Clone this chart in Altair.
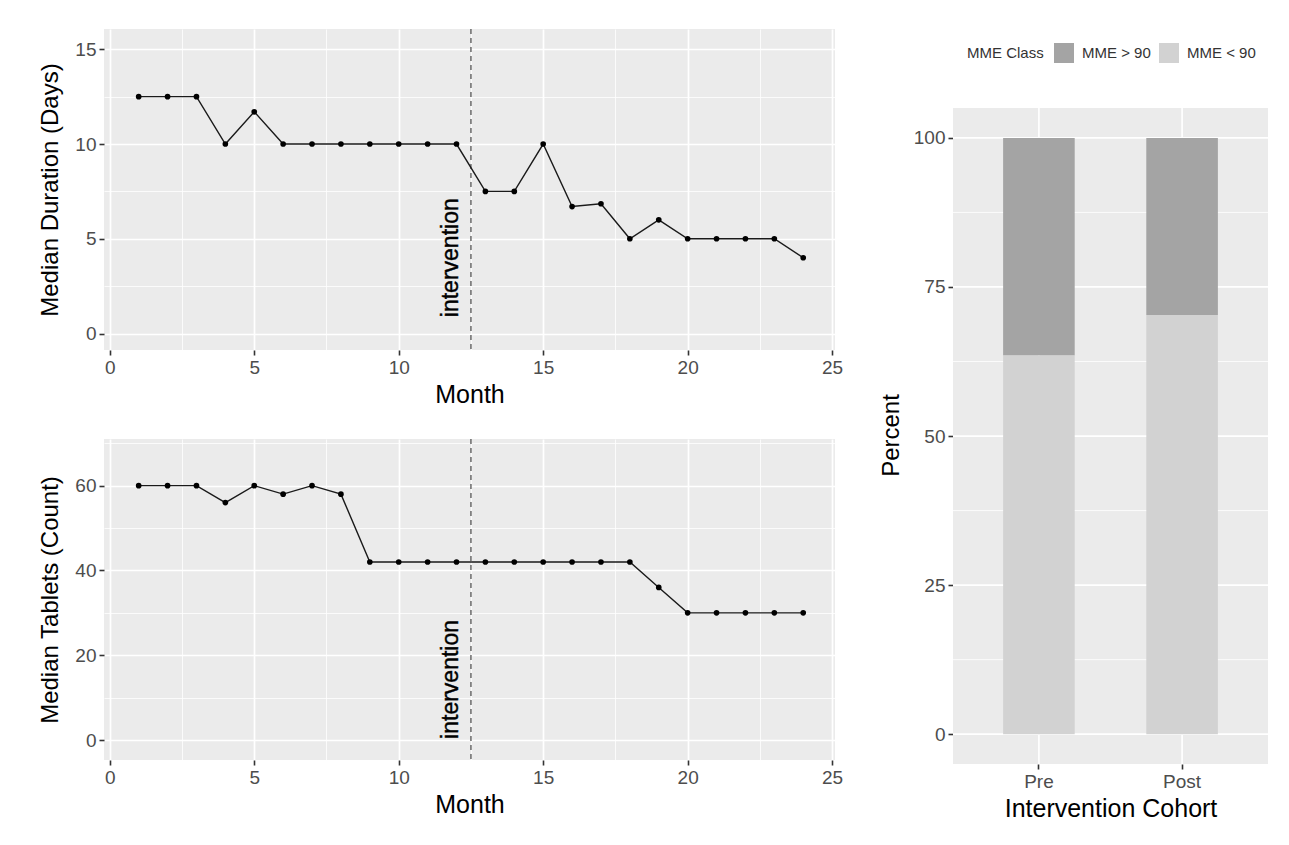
import altair as alt
import pandas as pd

# ---------------- data ----------------
months = list(range(1, 25))
median_duration = [12.5, 12.5, 12.5, 10, 11.7, 10, 10, 10, 10, 10, 10, 10,
                   7.5, 7.5, 10, 6.7, 6.85, 5, 6, 5, 5, 5, 5, 4]
median_tablets = [60, 60, 60, 56, 60, 58, 60, 58, 42, 42, 42, 42,
                  42, 42, 42, 42, 42, 42, 36, 30, 30, 30, 30, 30]

cohorts = ["Pre", "Pre", "Post", "Post"]
mme_class = ["MME > 90", "MME < 90", "MME > 90", "MME < 90"]
percent = [36.5, 63.5, 29.7, 70.3]
stack_order = [1, 0, 1, 0]
cohort_levels = ["Pre", "Post"]
class_levels = ["MME > 90", "MME < 90"]
class_colors = ["#A4A4A4", "#D2D2D2"]

intervention_month = 12.5
label_month = 11.8
duration_label_y = 4.0
tablets_label_y = 14.3

month_ticks = [0, 2.5, 5, 7.5, 10, 12.5, 15, 17.5, 20, 22.5, 25]
duration_ticks = [0, 2.5, 5, 7.5, 10, 12.5, 15]
tablets_ticks = [0, 10, 20, 30, 40, 50, 60, 70]
pct_major = [0, 25, 50, 75, 100]
pct_minor = [12.5, 37.5, 62.5, 87.5]

FONT = "Liberation Sans"
GRAY_BG = "#EBEBEB"
LW, LH = 731, 321
RW, RH = 315, 735


def cond(test, a, b):
    return {"condition": {"test": test, "value": a}, "value": b}


def axis_common(title, vals, major_test, tsize, **kw):
    return alt.Axis(
        title=title, values=vals,
        labelExpr=f"({major_test}) ? datum.label : ''",
        gridColor="white",
        gridWidth=cond(major_test, 1.7, 0.8),
        tickOpacity=cond(major_test, 1, 0),
        tickSize=5, tickWidth=1.6, tickColor="#333333",
        domain=False, labelFlush=False, labelOverlap=False,
        labelColor="#4D4D4D", labelFontSize=19, labelFont=FONT, labelPadding=3,
        titleFontSize=tsize, titleFont=FONT, titleFontWeight="normal",
        titleColor="black", **kw)


def line_panel(values, ytitle, ydomain, yticks, ymajor_mod, label_y):
    df = pd.DataFrame({"Month": months, "Value": values})
    xs = alt.Scale(domain=[-0.2, 25.1], nice=False, zero=False)
    ys = alt.Scale(domain=ydomain, nice=False, zero=False)
    xax = axis_common("Month", month_ticks, "datum.value % 5 === 0", 25, titlePadding=5)
    yax = axis_common(ytitle, yticks, f"datum.value % {ymajor_mod} === 0", 24, titlePadding=12)
    x = alt.X("Month:Q", scale=xs, axis=xax)
    y = alt.Y("Value:Q", scale=ys, axis=yax)
    line = alt.Chart(df).mark_line(color="#1A1A1A", strokeWidth=1.4).encode(x=x, y=y)
    pts = alt.Chart(df).mark_circle(color="black", size=32, opacity=1).encode(x=x, y=y)
    vline = alt.Chart(pd.DataFrame({"Month": [intervention_month]})).mark_rule(
        color="#555555", strokeWidth=1.3, strokeDash=[5, 4]).encode(x=x)
    txt = alt.Chart(pd.DataFrame({"Month": [label_month], "Value": [label_y],
                                  "t": ["intervention"]})).mark_text(
        angle=270, fontSize=23, font=FONT, color="black", align="center",
        baseline="middle", stroke="black", strokeWidth=0.4).encode(x=x, y=y, text="t:N")
    return alt.layer(vline, line, pts, txt).properties(width=LW, height=LH)


top = line_panel(median_duration, "Median Duration (Days)", [-0.87, 16.07],
                 duration_ticks, 5, duration_label_y)
bottom = line_panel(median_tablets, "Median Tablets (Count)", [-4.7, 71.0],
                    tablets_ticks, 20, tablets_label_y)
left = alt.vconcat(top, bottom, spacing=27)

# ---------------- right panel ----------------
bar_df = pd.DataFrame({"Cohort": cohorts, "MME Class": mme_class,
                       "Percent": percent, "ord": stack_order})
ybar = alt.Scale(domain=[-5, 118.26], nice=False, zero=False)
xband = alt.Scale(domain=cohort_levels, paddingInner=0.5, paddingOuter=0.35)
yaxis = alt.Axis(title="Percent", values=pct_major, grid=False,
                 tickSize=5, tickWidth=1.6, tickColor="#333333", domain=False,
                 labelColor="#4D4D4D", labelFontSize=19, labelFont=FONT, labelPadding=3,
                 titleFontSize=24, titleFont=FONT, titleFontWeight="normal",
                 titleColor="black", titlePadding=10, titleY=406)
xaxis = alt.Axis(title="Intervention Cohort", grid=False, labelAngle=0,
                 tickSize=5, tickWidth=1.6, tickColor="#333333", domain=False,
                 labelColor="#4D4D4D", labelFontSize=19, labelFont=FONT, labelPadding=3,
                 titleFontSize=25, titleFont=FONT, titleFontWeight="normal",
                 titleColor="black", titlePadding=5)

bg = alt.Chart(pd.DataFrame({"lo": [-5], "hi": [105]})).mark_rect(color=GRAY_BG).encode(
    x=alt.value(0), x2=alt.value(RW),
    y=alt.Y("lo:Q", scale=ybar, axis=yaxis), y2="hi:Q")
gmaj = alt.Chart(pd.DataFrame({"v": pct_major})).mark_rule(color="white", strokeWidth=1.7).encode(
    x=alt.value(0), x2=alt.value(RW), y=alt.Y("v:Q", scale=ybar, axis=yaxis))
gmin = alt.Chart(pd.DataFrame({"v": pct_minor})).mark_rule(color="white", strokeWidth=0.8).encode(
    x=alt.value(0), x2=alt.value(RW), y=alt.Y("v:Q", scale=ybar, axis=yaxis))
gx = alt.Chart(pd.DataFrame({"Cohort": cohort_levels, "lo": [-5, -5], "hi": [105, 105]})).mark_rule(
    color="white", strokeWidth=1.7).encode(
    x=alt.X("Cohort:N", scale=xband, axis=xaxis),
    y=alt.Y("lo:Q", scale=ybar, axis=yaxis), y2="hi:Q")
bars = alt.Chart(bar_df).mark_bar().encode(
    x=alt.X("Cohort:N", scale=xband, axis=xaxis),
    y=alt.Y("Percent:Q", stack="zero", scale=ybar, axis=yaxis),
    color=alt.Color("MME Class:N",
                    scale=alt.Scale(domain=class_levels, range=class_colors),
                    legend=alt.Legend(orient="none", legendX=863, legendY=14,
                                      direction="horizontal", titleOrient="left",
                                      title="MME Class", symbolType="square",
                                      symbolSize=400, symbolStrokeWidth=0,
                                      labelFontSize=15, labelFont=FONT, labelColor="#333333",
                                      titleFontSize=15, titleFont=FONT,
                                      titleFontWeight="normal", titleColor="#333333",
                                      titlePadding=10, labelOffset=8, columnPadding=8)),
    order=alt.Order("ord:Q"))
right = alt.layer(bg, gmaj, gmin, gx, bars).properties(
    width=RW, height=RH, view=alt.ViewBackground(fill="white", strokeWidth=0))

chart = alt.hconcat(left, right, spacing=36).properties(
    padding={"left": 30, "top": 20, "right": 5, "bottom": 5},
    background="white"
).configure_view(fill=GRAY_BG, strokeWidth=0)

chart.save("out.html", embed_options={"renderer": "svg", "actions": False})
